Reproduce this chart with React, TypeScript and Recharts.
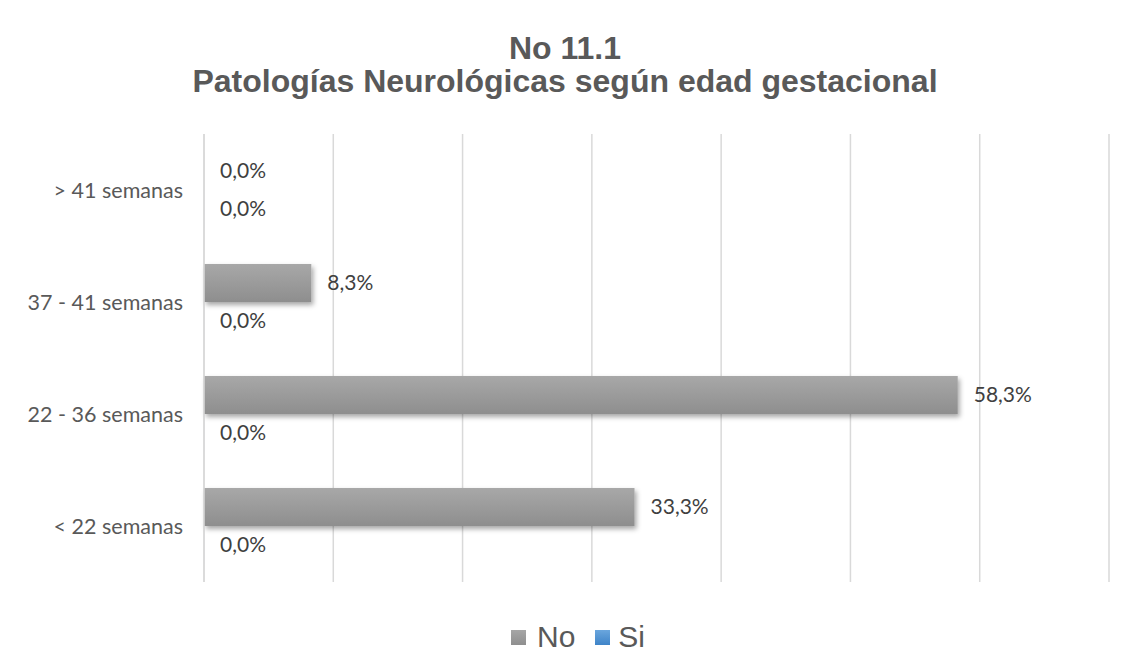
import React from "react";
import { BarChart, Bar, XAxis, YAxis, CartesianGrid, LabelList } from "recharts";

const categories = ["> 41 semanas", "37 - 41 semanas", "22 - 36 semanas", "< 22 semanas"];
const noValues = [0, 8.3, 58.3, 33.3];
const siValues = [0, 0, 0, 0];
const xTicks = [0, 10, 20, 30, 40, 50, 60, 70];

const data = categories.map((name, i) => ({ name, No: noValues[i], Si: siValues[i] }));

const fmt = (v: number) => v.toFixed(1).replace(".", ",") + "%";
const labelFont = "Lato, 'Open Sans', sans-serif";
const arial = "'Liberation Sans', Arial, sans-serif";

const App: React.FC = () => {
  return (
    <div
      style={{
        position: "relative",
        width: 1130,
        height: 670,
        border: "1px solid #d9d9d9",
        marginLeft: -1,
        marginTop: -1,
        background: "#fff",
      }}
    >
      <div
        style={{
          position: "absolute",
          top: 24,
          left: 0,
          width: 1114,
          textAlign: "center",
          fontFamily: arial,
          fontWeight: "bold",
          fontSize: 32,
          lineHeight: "33px",
          color: "#595959",
        }}
      >
        No 11.1
        <br />
        Patologías Neurológicas según edad gestacional
      </div>
      <BarChart
        width={1114}
        height={655}
        data={data}
        layout="vertical"
        margin={{ top: 126, right: 13, bottom: 81, left: 0 }}
        barCategoryGap="16%"
        barGap={0}
      >
        <defs>
          <linearGradient id="gNo" x1="0" y1="0" x2="0" y2="1">
            <stop offset="0%" stopColor="#a8a8a8" />
            <stop offset="100%" stopColor="#8e8e8e" />
          </linearGradient>
          <linearGradient id="gSi" x1="0" y1="0" x2="0" y2="1">
            <stop offset="0%" stopColor="#6aa6dd" />
            <stop offset="100%" stopColor="#3f84c8" />
          </linearGradient>
          <filter id="shadow" x="-10%" y="-30%" width="130%" height="180%">
            <feDropShadow dx="2" dy="3" stdDeviation="2.5" floodColor="#000" floodOpacity="0.35" />
          </filter>
        </defs>
        <CartesianGrid horizontal={false} stroke="#d9d9d9" strokeWidth={1.5} />
        <XAxis type="number" domain={[0, 70]} ticks={xTicks} hide />
        <YAxis
          type="category"
          dataKey="name"
          width={196}
          axisLine={{ stroke: "#d9d9d9", strokeWidth: 1.5 }}
          tickLine={false}
          tickMargin={15}
          tick={{ fill: "#595959", fontSize: 21.5, fontFamily: labelFont }}
        />
        <Bar dataKey="No" fill="url(#gNo)" filter="url(#shadow)" minPointSize={0.01} isAnimationActive={false}>
          <LabelList
            dataKey="No"
            position="right"
            offset={16}
            formatter={(v: any) => fmt(Number(v))}
            style={{ fill: "#404040", fontSize: 21, fontFamily: labelFont }}
          />
        </Bar>
        <Bar dataKey="Si" fill="url(#gSi)" filter="url(#shadow)" minPointSize={0.01} isAnimationActive={false}>
          <LabelList
            dataKey="Si"
            position="right"
            offset={16}
            formatter={(v: any) => fmt(Number(v))}
            style={{ fill: "#404040", fontSize: 21, fontFamily: labelFont }}
          />
        </Bar>
      </BarChart>
      <div
        style={{
          position: "absolute",
          top: 612,
          left: 503,
          display: "flex",
          alignItems: "center",
          fontFamily: arial,
          fontSize: 30,
          lineHeight: "34px",
          color: "#595959",
        }}
      >
        <span style={{ width: 15, height: 15, background: "linear-gradient(#a6a6a6, #8f8f8f)", marginRight: 11 }} />
        <span style={{ marginRight: 20 }}>No</span>
        <span style={{ width: 15, height: 15, background: "linear-gradient(#6aa6dd, #3f84c8)", marginRight: 8 }} />
        <span>Si</span>
      </div>
    </div>
  );
};

export default App;
